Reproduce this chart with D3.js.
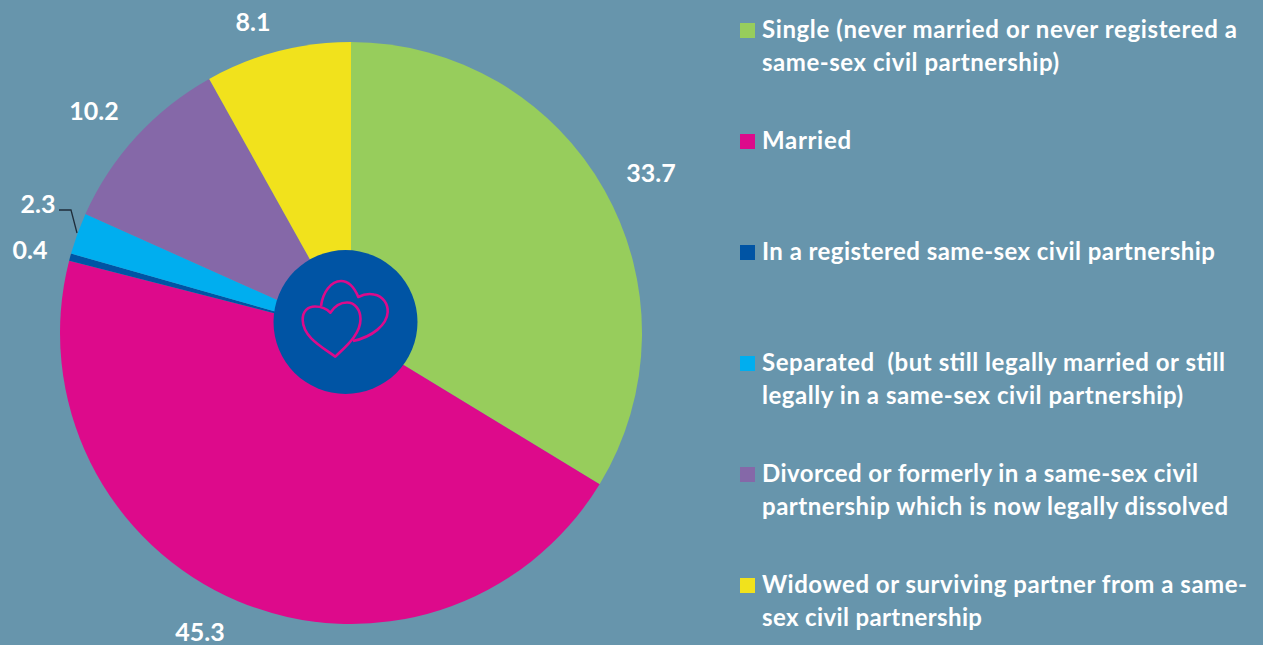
<!DOCTYPE html>
<html><head><meta charset="utf-8">
<script src="https://cdn.jsdelivr.net/npm/d3@7"></script>
<style>html,body{margin:0;padding:0;background:#6795ac;overflow:hidden}
text{font-family:Lato,"Open Sans",sans-serif;font-weight:700;fill:#fff}</style></head>
<body><svg id="c" width="1263" height="645"></svg>
<script>
const categories=["Single","Married","In a registered same-sex civil partnership","Separated","Divorced","Widowed"];
const values=[33.7,45.3,0.4,2.3,10.2,8.1];
const colors=["#97cd5c","#dd0a8b","#0054a4","#00aeef","#8568a8","#f1e21c"];
const valueLabels=["33.7","45.3","0.4","2.3","10.2","8.1"];
const labelPositions=[[651,173],[200,632],[30,250],[38,204],[94,111],[253,22]];
const legendLines=[
 ["Single (never married or never registered a","same-sex civil partnership)"],
 ["Married"],
 ["In a registered same-sex civil partnership"],
 ["Separated  (but still legally married or still","legally in a same-sex civil partnership)"],
 ["Divorced or formerly in a same-sex civil","partnership which is now legally dissolved"],
 ["Widowed or surviving partner from a same-","sex civil partnership"]];
const legendY=[30,141,252,363,474,585];
const legendWidths=[[475,297],[89],[453],[463,421],[436,466],[485,220]];

const svg=d3.select("#c");
const cx=351,cy=333,r=291;
const pie=d3.pie().sort(null).value(d=>d);
const arc=d3.arc().innerRadius(0).outerRadius(r);
const g=svg.append("g").attr("transform",`translate(${cx},${cy})`);
g.selectAll("path").data(pie(values)).join("path").attr("d",arc).attr("fill",(d,i)=>colors[i]);

svg.append("circle").attr("cx",345.5).attr("cy",322).attr("r",72).attr("fill","#0054a4");

const hearts=svg.append("g").attr("fill","none").attr("stroke","#dd0a8b").attr("stroke-width",2.6).attr("stroke-linejoin","round");
hearts.append("path").attr("d","M321,306 C323,292 331,281 341,281 C349,281 355,289 358.3,297 C364,294 369,293.5 374,294.5 C383,296 388,304 387.7,312 C387,325 372,337 353,341");
hearts.append("path").attr("d","M335.3,356.7 C322,347 303,337 302.7,320 C302.5,311 308,306.5 315,306.5 C321,306.5 327,309 330.3,312.7 C334,307 340,302.5 347,302.5 C355,302.5 360.5,310 360.5,319 C360.5,335 345,347 335.3,356.7 Z");

svg.append("path").attr("d","M59,210 L71,210 L77,233").attr("fill","none").attr("stroke","#1f2d3a").attr("stroke-width",1.3);

svg.selectAll("text.val").data(valueLabels).join("text").attr("class","val")
 .attr("x",(d,i)=>labelPositions[i][0]).attr("y",(d,i)=>labelPositions[i][1])
 .attr("dy","0.35em").attr("text-anchor","middle").attr("font-size",25).text(d=>d);

const lg=svg.selectAll("g.leg").data(legendLines).join("g").attr("class","leg");
lg.append("rect").attr("x",740).attr("y",(d,i)=>legendY[i]-7).attr("width",15).attr("height",15).attr("fill",(d,i)=>colors[i]);
lg.each(function(lines,i){
 d3.select(this).selectAll("text").data(lines).join("text")
  .attr("x",762).attr("y",(d,j)=>legendY[i]+j*33).attr("dy","0.35em")
  .attr("font-size",24).attr("textLength",(d,j)=>legendWidths[i][j]).attr("lengthAdjust","spacing")
  .attr("xml:space","preserve").style("white-space","pre").text(d=>d);
});
</script></body></html>
